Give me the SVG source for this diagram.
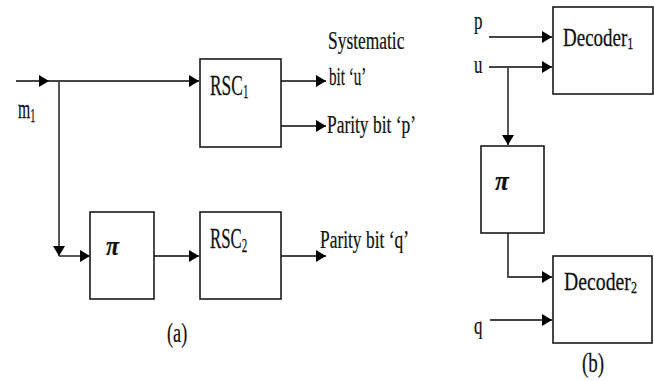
<svg xmlns="http://www.w3.org/2000/svg" width="654" height="381" viewBox="0 0 654 381">
<style>
.box{fill:#fff;stroke:#1a1a1a;stroke-width:1.6}
.wire{fill:none;stroke:#444;stroke-width:1.8}
text{font-family:"Liberation Serif","Times New Roman",serif;fill:#111;stroke:#111;stroke-width:0.25}
.pi{font-style:italic;font-weight:bold}
</style>
<defs>
<marker id="ah" markerUnits="userSpaceOnUse" markerWidth="10" markerHeight="12" refX="10" refY="6" orient="auto">
<path d="M0,0 L10,6 L0,12 z" fill="#000"/>
</marker>
</defs>
<rect width="654" height="381" fill="#fff"/>
<g id="connectors">
<path class="wire" d="M16,81 H49" marker-end="url(#ah)"/>
<path class="wire" d="M49,81 H199" marker-end="url(#ah)"/>
<path class="wire" d="M59,81 V256" marker-end="url(#ah)"/>
<path class="wire" d="M59,256 H90" marker-end="url(#ah)"/>
<path class="wire" d="M154,256 H199" marker-end="url(#ah)"/>
<path class="wire" d="M281,81 H326" marker-end="url(#ah)"/>
<path class="wire" d="M281,126 H326" marker-end="url(#ah)"/>
<path class="wire" d="M281,256 H326" marker-end="url(#ah)"/>
<path class="wire" d="M489,37 H552" marker-end="url(#ah)"/>
<path class="wire" d="M489,67 H552" marker-end="url(#ah)"/>
<path class="wire" d="M508,67 V145" marker-end="url(#ah)"/>
<path class="wire" d="M508,233 V277 H552" marker-end="url(#ah)"/>
<path class="wire" d="M490,320 H552" marker-end="url(#ah)"/>
</g>
<g id="rsc1">
<rect class="box" x="200" y="59" width="81" height="88"/>
<text transform="translate(210,95) scale(0.58,1)" style="font-size:30px">RSC<tspan dy="3" style="font-size:19px">1</tspan></text>
</g>
<g id="interleaver-a">
<rect class="box" x="90" y="212" width="64" height="87"/>
<text class="pi" transform="translate(106,255) scale(0.85,1)" style="font-size:28px">π</text>
</g>
<g id="rsc2">
<rect class="box" x="200" y="212" width="81" height="87"/>
<text transform="translate(210,248) scale(0.58,1)" style="font-size:29px">RSC<tspan dy="4" style="font-size:19px">2</tspan></text>
</g>
<g id="labels-a">
<text transform="translate(18,118) scale(0.58,1)" style="font-size:27px">m<tspan dy="4" style="font-size:18px">1</tspan></text>
<text transform="translate(328,49) scale(0.67,1)" style="font-size:26px">Systematic</text>
<text transform="translate(329,85) scale(0.58,1)" style="font-size:26px">bit ‘u’</text>
<text transform="translate(327,133) scale(0.67,1)" style="font-size:26px">Parity bit ‘p’</text>
<text transform="translate(320,248) scale(0.67,1)" style="font-size:26px">Parity bit ‘q’</text>
<text transform="translate(167,342) scale(0.65,1)" style="font-size:28px">(a)</text>
</g>
<g id="decoder1">
<rect class="box" x="553" y="7" width="100" height="87"/>
<text transform="translate(563,46) scale(0.76,1)" style="font-size:25px">Decoder<tspan dy="3" style="font-size:16px">1</tspan></text>
</g>
<g id="interleaver-b">
<rect class="box" x="481" y="146" width="63" height="87"/>
<text class="pi" transform="translate(495,190) scale(0.9,1)" style="font-size:28px">π</text>
</g>
<g id="decoder2">
<rect class="box" x="553" y="256" width="99" height="87"/>
<text transform="translate(564,290) scale(0.76,1)" style="font-size:26px">Decoder<tspan dy="3" style="font-size:16px">2</tspan></text>
</g>
<g id="labels-b">
<text transform="translate(474,29) scale(0.65,1)" style="font-size:26px">p</text>
<text transform="translate(474,73) scale(0.65,1)" style="font-size:26px">u</text>
<text transform="translate(474,334) scale(0.65,1)" style="font-size:26px">q</text>
<text transform="translate(582,372) scale(0.68,1)" style="font-size:28px">(b)</text>
</g>
</svg>
